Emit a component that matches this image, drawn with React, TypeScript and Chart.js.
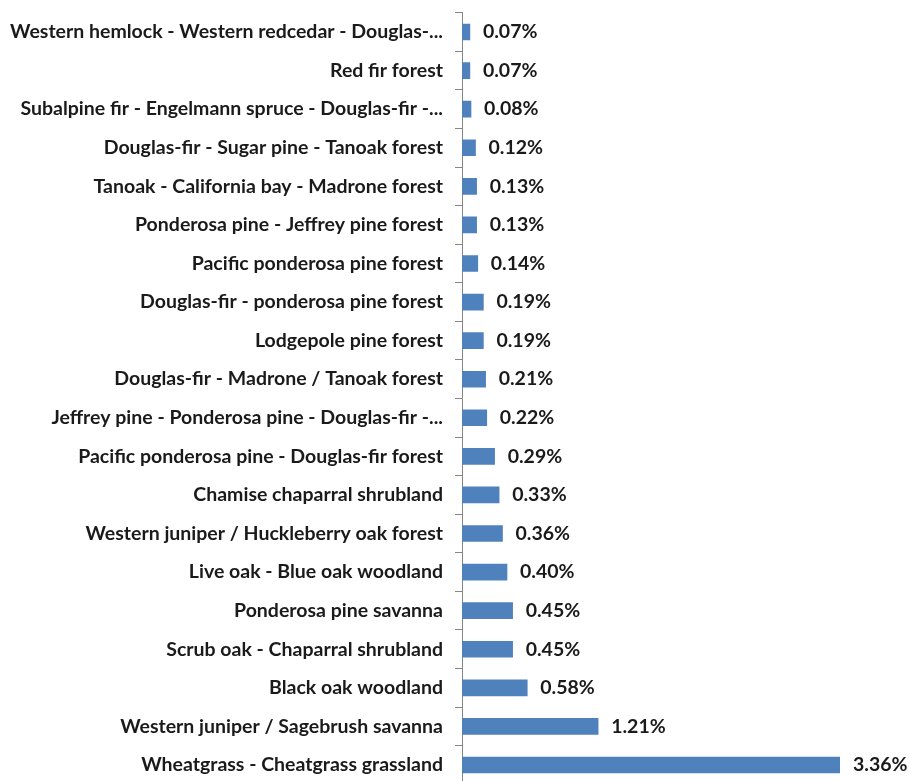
import React, { useEffect, useRef } from "react";
import { Chart, registerables } from "chart.js";

Chart.register(...registerables);

const categories = [
  "Western hemlock - Western redcedar - Douglas-...",
  "Red fir forest",
  "Subalpine fir - Engelmann spruce - Douglas-fir -...",
  "Douglas-fir - Sugar pine - Tanoak forest",
  "Tanoak - California bay - Madrone forest",
  "Ponderosa pine - Jeffrey pine forest",
  "Pacific ponderosa pine forest",
  "Douglas-fir - ponderosa pine forest",
  "Lodgepole pine forest",
  "Douglas-fir - Madrone / Tanoak forest",
  "Jeffrey pine - Ponderosa pine - Douglas-fir -...",
  "Pacific ponderosa pine - Douglas-fir forest",
  "Chamise chaparral shrubland",
  "Western juniper / Huckleberry oak forest",
  "Live oak - Blue oak woodland",
  "Ponderosa pine savanna",
  "Scrub oak - Chaparral shrubland",
  "Black oak woodland",
  "Western juniper / Sagebrush savanna",
  "Wheatgrass - Cheatgrass grassland",
];

const values = [
  0.07, 0.07, 0.08, 0.12, 0.13, 0.13, 0.14, 0.19, 0.19, 0.21, 0.22, 0.29, 0.33,
  0.36, 0.4, 0.45, 0.45, 0.58, 1.21, 3.36,
];

const FONT_FAMILY = "Lato, 'Open Sans', sans-serif";
const FONT_SIZE = 19.5;
const TEXT_COLOR = "#1a1a1a";

const valueLabels = {
  id: "valueLabels",
  afterDatasetsDraw(chart: any) {
    const ctx = chart.ctx;
    const meta = chart.getDatasetMeta(0);
    ctx.save();
    ctx.font = `bold ${FONT_SIZE}px ${FONT_FAMILY}`;
    ctx.fillStyle = TEXT_COLOR;
    ctx.textAlign = "left";
    ctx.textBaseline = "middle";
    meta.data.forEach((bar: any, i: number) => {
      const v = values[i];
      ctx.fillText(v.toFixed(2) + "%", bar.x + 13, bar.y);
    });
    ctx.restore();
  },
};

export default function App() {
  const ref = useRef<HTMLCanvasElement | null>(null);
  useEffect(() => {
    if (!ref.current) return;
    const chart = new Chart(ref.current, {
      type: "bar",
      data: {
        labels: categories,
        datasets: [
          {
            data: values,
            backgroundColor: "#4F81BD",
            borderWidth: 0,
            barThickness: 16,
          },
        ],
      },
      options: {
        indexAxis: "y",
        animation: false,
        responsive: false,
        maintainAspectRatio: false,
        layout: { padding: { top: 12.7, bottom: 15.7, left: 0, right: 69 } },
        plugins: { legend: { display: false }, tooltip: { enabled: false } },
        scales: {
          x: {
            display: false,
            min: 0,
            max: 3.36,
          },
          y: {
            afterFit(scale: any) {
              scale.width = 462;
              scale.paddingTop = 0;
              scale.paddingBottom = 0;
            },
            border: { color: "#868686", width: 1 },
            grid: {
              drawOnChartArea: false,
              drawTicks: true,
              tickLength: 7,
              color: "#868686",
              offset: true,
            },
            ticks: {
              color: TEXT_COLOR,
              padding: 12,
              autoSkip: false,
              font: { family: FONT_FAMILY, size: FONT_SIZE, weight: "bold" },
            },
          },
        },
      },
      plugins: [valueLabels],
    });
    return () => chart.destroy();
  }, []);
  return (
    <div style={{ position: "fixed", left: 0, top: 0, width: 909, height: 800, background: "#fff" }}>
      <canvas ref={ref} width={909} height={800} style={{ width: 909, height: 800 }} />
    </div>
  );
}
